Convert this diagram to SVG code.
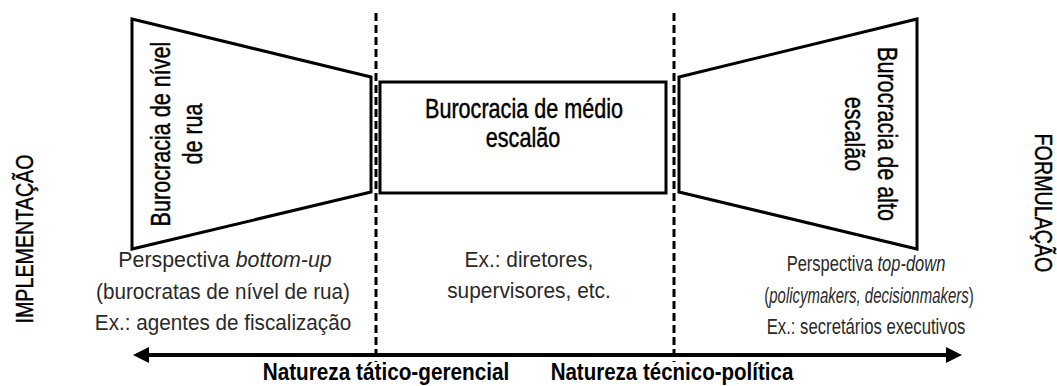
<svg xmlns="http://www.w3.org/2000/svg" width="1057" height="386" viewBox="0 0 1057 386">
<defs>
<style>
.shape{fill:#fff;stroke:#000;stroke-width:3;stroke-linejoin:miter}
.dash{stroke:#000;stroke-width:3;stroke-dasharray:8 4;fill:none}
.axis{stroke:#000;stroke-width:4;fill:none}
text{font-family:"Liberation Sans",Arial,sans-serif;text-anchor:middle}
.lbl{font-size:27px;fill:#000;stroke:#000;stroke-width:0.45}
.side{font-size:24px;fill:#000;stroke:#000;stroke-width:0.45}
.desc{font-size:22px;fill:#2a2a2a}
.nat{font-size:24px;fill:#000;font-weight:bold}
.it{font-style:italic}
</style>
<marker id="head" viewBox="0 0 16 16" refX="2" refY="8" markerWidth="16" markerHeight="16" markerUnits="userSpaceOnUse" orient="auto-start-reverse">
<path d="M0,0 L16,8 L0,16 Z" fill="#000"/>
</marker>
</defs>

<g id="connectors">
<line class="dash" x1="376" y1="13" x2="376" y2="362"/>
<line class="dash" x1="674" y1="13" x2="674" y2="362"/>
<line class="axis" x1="147" y1="355" x2="948" y2="355" marker-start="url(#head)" marker-end="url(#head)"/>
</g>

<g id="street">
<polygon class="shape" points="132,19 371,77 371,192 132,249"/>
<text class="lbl" transform="translate(170,134) rotate(-90) scale(0.8,1)">Burocracia de nível</text>
<text class="lbl" transform="translate(202,134) rotate(-90) scale(0.8,1)">de rua</text>
</g>

<g id="middle">
<rect class="shape" x="380" y="82" width="286" height="111"/>
<text class="lbl" transform="translate(524,118) scale(0.8,1)">Burocracia de médio</text>
<text class="lbl" transform="translate(523,147) scale(0.8,1)">escalão</text>
</g>

<g id="high">
<polygon class="shape" points="679,77 917,19 917,249 679,192"/>
<text class="lbl" transform="translate(878,134) rotate(90) scale(0.8,1)">Burocracia de alto</text>
<text class="lbl" transform="translate(845,134) rotate(90) scale(0.8,1)">escalão</text>
</g>

<g id="impl">
<text class="side" transform="translate(33,239) rotate(-90) scale(0.82,1)">IMPLEMENTAÇÃO</text>
</g>
<g id="form">
<text class="side" transform="translate(1035,203) rotate(90) scale(0.82,1)">FORMULAÇÃO</text>
</g>

<g id="desc-left">
<text class="desc" transform="translate(225,267) scale(0.97,1)">Perspectiva <tspan class="it">bottom-up</tspan></text>
<text class="desc" transform="translate(223,299) scale(0.94,1)">(burocratas de nível de rua)</text>
<text class="desc" transform="translate(223,330) scale(0.94,1)">Ex.: agentes de fiscalização</text>
</g>
<g id="desc-middle">
<text class="desc" transform="translate(529,267) scale(0.95,1)">Ex.: diretores,</text>
<text class="desc" transform="translate(529,298) scale(0.95,1)">supervisores, etc.</text>
</g>
<g id="desc-right">
<text class="desc" transform="translate(866,271) scale(0.75,1)">Perspectiva <tspan class="it">top-down</tspan></text>
<text class="desc" transform="translate(869,303) scale(0.68,1)">(<tspan class="it">policymakers, decisionmakers</tspan>)</text>
<text class="desc" transform="translate(866,334) scale(0.76,1)">Ex.: secretários executivos</text>
</g>

<g id="nature-left">
<text class="nat" transform="translate(386,380) scale(0.865,1)">Natureza tático-gerencial</text>
</g>
<g id="nature-right">
<text class="nat" transform="translate(672,380) scale(0.855,1)">Natureza técnico-política</text>
</g>
</svg>
